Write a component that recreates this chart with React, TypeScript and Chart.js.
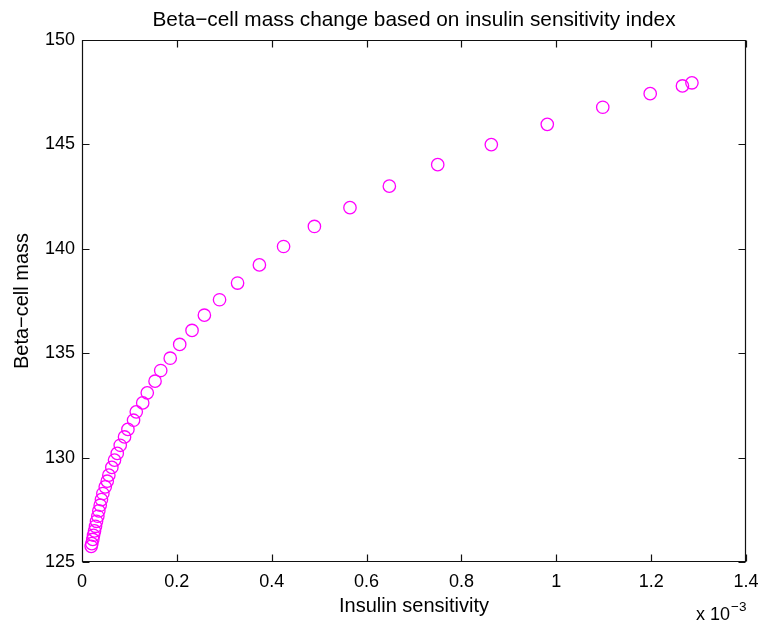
import React, { useEffect, useRef } from "react";
import { Chart, registerables } from "chart.js";

Chart.register(...registerables);

// Insulin sensitivity, in units of 1e-3
const insulinSensitivity: number[] = [
  0.0194, 0.0207, 0.0228, 0.0243, 0.0264, 0.0285, 0.0306, 0.0334, 0.0355, 0.0384,
  0.041, 0.044, 0.049, 0.0532, 0.0566, 0.0629, 0.0686, 0.0743, 0.0806, 0.0897,
  0.0968, 0.1087, 0.1144, 0.128, 0.1376, 0.154, 0.166, 0.186, 0.206, 0.232,
  0.258, 0.29, 0.328, 0.374, 0.425, 0.49, 0.565, 0.648, 0.75, 0.863,
  0.981, 1.098, 1.198, 1.266, 1.286,
];

const betaCellMass: number[] = [
  125.75, 125.88, 126.08, 126.28, 126.49, 126.71, 126.95, 127.19, 127.45, 127.72,
  127.99, 128.28, 128.6, 128.87, 129.16, 129.53, 129.88, 130.2, 130.59, 130.99,
  131.35, 131.79, 132.19, 132.62, 133.1, 133.66, 134.17, 134.76, 135.42, 136.09,
  136.82, 137.56, 138.36, 139.23, 140.11, 141.07, 141.97, 143.0, 144.03, 144.99,
  145.96, 146.78, 147.43, 147.8, 147.95,
];

const xTicks: number[] = [0, 0.2, 0.4, 0.6, 0.8, 1, 1.2, 1.4];
const yTicks: number[] = [125, 130, 135, 140, 145, 150];

const titleText = "Beta\u2212cell mass change based on insulin sensitivity index";
const xLabel = "Insulin sensitivity";
const yLabel = "Beta\u2212cell mass";
const xExponentBase = "x 10";
const xExponent = "\u22123";

const FONT = "Helvetica, Arial, 'Liberation Sans', sans-serif";

const boxPlugin = {
  id: "matlabBox",
  afterDatasetsDraw(chart: any) {
    const { ctx, chartArea } = chart;
    const { left, right, top, bottom } = chartArea;
    const xs = chart.scales.x;
    const ys = chart.scales.y;
    const L = Math.round(left) + 0.5;
    const R = Math.round(right) - 0.5;
    const T = Math.round(top) + 0.5;
    const B = Math.round(bottom) - 0.5;
    const tickLen = 7;
    ctx.save();
    ctx.strokeStyle = "#111";
    ctx.lineWidth = 1.2;
    ctx.beginPath();
    ctx.rect(L, T, R - L, B - T);
    for (const v of xTicks) {
      const px = Math.round(xs.getPixelForValue(v)) + 0.5;
      ctx.moveTo(px, B);
      ctx.lineTo(px, B - tickLen);
      ctx.moveTo(px, T);
      ctx.lineTo(px, T + tickLen);
    }
    for (const v of yTicks) {
      const py = Math.round(ys.getPixelForValue(v)) + 0.5;
      ctx.moveTo(L, py);
      ctx.lineTo(L + tickLen, py);
      ctx.moveTo(R, py);
      ctx.lineTo(R - tickLen, py);
    }
    ctx.stroke();

    ctx.fillStyle = "#000";
    // title centred over the axes box
    ctx.font = `20.8px ${FONT}`;
    ctx.textAlign = "center";
    ctx.textBaseline = "alphabetic";
    ctx.fillText(titleText, (left + right) / 2, 26);

    // exponent label
    ctx.textAlign = "left";
    ctx.font = `18px ${FONT}`;
    const baseX = 696;
    const baseY = 620;
    ctx.fillText(xExponentBase, baseX, baseY);
    const w = ctx.measureText(xExponentBase).width;
    ctx.font = `13.5px ${FONT}`;
    ctx.fillText(xExponent, baseX + w + 1, baseY - 9);
    ctx.restore();
  },
};

export default function App() {
  const canvasRef = useRef<HTMLCanvasElement | null>(null);

  useEffect(() => {
    if (!canvasRef.current) return;
    const points = insulinSensitivity.map((x, i) => ({ x, y: betaCellMass[i] }));
    const chart = new Chart(canvasRef.current, {
      type: "scatter",
      data: {
        datasets: [
          {
            data: points,
            showLine: false,
            pointStyle: "circle",
            pointRadius: 6.2,
            pointHoverRadius: 6.2,
            borderWidth: 1.3,
            borderColor: "#ff00ff",
            backgroundColor: "rgba(0,0,0,0)",
          },
        ],
      },
      options: {
        animation: false,
        responsive: false,
        devicePixelRatio: 1,
        events: [],
        layout: { padding: { left: 0, right: 17, top: 40, bottom: 0 } },
        plugins: {
          legend: { display: false },
          tooltip: { enabled: false },
          title: { display: false },
        },
        scales: {
          x: {
            type: "linear",
            min: 0,
            max: 1.4,
            grid: { display: false, drawTicks: false },
            border: { display: false },
            afterBuildTicks: (scale: any) => {
              scale.ticks = xTicks.map((v) => ({ value: v }));
            },
            afterFit: (scale: any) => {
              scale.height = 66;
              scale.paddingLeft = 0;
              scale.paddingRight = 0;
            },
            ticks: {
              color: "#000",
              font: { family: FONT, size: 18 },
              padding: 9,
              maxRotation: 0,
              callback: (v: any) => String(Math.round(Number(v) * 10) / 10),
            },
            title: {
              display: true,
              text: xLabel,
              color: "#000",
              font: { family: FONT, size: 20 },
              padding: { top: 0, bottom: 10 },
            },
          },
          y: {
            type: "linear",
            min: 125,
            max: 150,
            grid: { display: false, drawTicks: false },
            border: { display: false },
            afterBuildTicks: (scale: any) => {
              scale.ticks = yTicks.map((v) => ({ value: v }));
            },
            afterFit: (scale: any) => {
              scale.width = 82;
              scale.paddingTop = 0;
              scale.paddingBottom = 0;
            },
            ticks: {
              color: "#000",
              font: { family: FONT, size: 18 },
              padding: 7,
            },
            title: {
              display: true,
              text: yLabel,
              color: "#000",
              font: { family: FONT, size: 20 },
              padding: { top: 10, bottom: 0 },
            },
          },
        },
      },
      plugins: [boxPlugin],
    });
    return () => chart.destroy();
  }, []);

  return (
    <div style={{ position: "fixed", left: 0, top: 0, width: 763, height: 628, background: "#fff" }}>
      <canvas ref={canvasRef} width={763} height={628} style={{ width: 763, height: 628, display: "block" }} />
    </div>
  );
}
